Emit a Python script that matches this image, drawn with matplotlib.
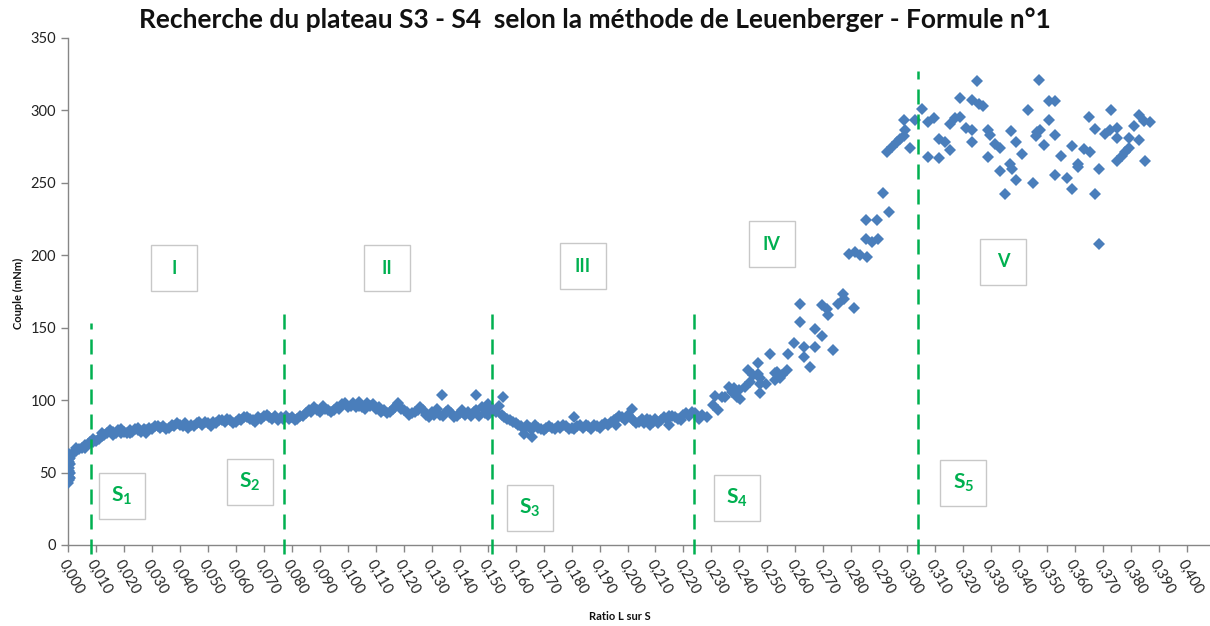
import matplotlib
matplotlib.use("Agg")
import matplotlib.pyplot as plt
from matplotlib.patches import Rectangle

plt.rcParams['font.family'] = ['Lato', 'DejaVu Sans']
plt.rcParams['mathtext.fontset'] = 'custom'
plt.rcParams['mathtext.rm'] = 'Lato'
plt.rcParams['mathtext.bf'] = 'Lato:bold'

# ---------------- data ----------------
start_x = [0.0000, 0.0002, 0.0004, 0.0000, 0.0002, 0.0004, 0.0000, 0.0002, 0.0004, 0.0000, 0.0002, 0.0006,
           0.0008, 0.0008, 0.0006]
start_y = [43, 45, 47, 49, 51, 53, 55, 57, 59, 61, 63, 60, 56, 50, 46]

band_x = [0.001, 0.002, 0.003, 0.004, 0.005, 0.006, 0.007, 0.008, 0.009, 0.010,
          0.011, 0.012, 0.013, 0.014, 0.015, 0.016, 0.017, 0.018, 0.019, 0.020,
          0.021, 0.022, 0.023, 0.024, 0.025, 0.026, 0.027, 0.028, 0.029, 0.030,
          0.032, 0.033, 0.034, 0.036, 0.037, 0.038, 0.040, 0.041, 0.042, 0.044,
          0.045, 0.046, 0.048, 0.049, 0.050, 0.052, 0.053, 0.054, 0.056, 0.057,
          0.058, 0.060, 0.061, 0.062, 0.064, 0.065, 0.066, 0.068, 0.069, 0.070,
          0.072, 0.073, 0.074, 0.076, 0.077, 0.078, 0.080, 0.081, 0.082, 0.084,
          0.085, 0.086, 0.087, 0.088, 0.089, 0.090, 0.092, 0.093, 0.094, 0.096,
          0.097, 0.098, 0.100, 0.101, 0.102, 0.104, 0.105, 0.106, 0.108, 0.109,
          0.110, 0.112, 0.113, 0.114, 0.116, 0.117, 0.118, 0.120, 0.121, 0.122,
          0.124, 0.125, 0.126, 0.128, 0.129, 0.130, 0.132, 0.133, 0.134, 0.136,
          0.137, 0.138, 0.140, 0.141, 0.142, 0.144, 0.145, 0.146, 0.148, 0.149,
          0.150, 0.152, 0.153, 0.154, 0.156, 0.157, 0.158, 0.160, 0.161, 0.162,
          0.164, 0.165, 0.166, 0.168, 0.169, 0.170, 0.172, 0.173, 0.174, 0.176,
          0.177, 0.178, 0.180, 0.181, 0.182, 0.184, 0.185, 0.186, 0.188, 0.189,
          0.190, 0.192, 0.193, 0.194, 0.196, 0.197, 0.198, 0.200, 0.201, 0.202,
          0.204, 0.205, 0.206, 0.208, 0.209, 0.210, 0.212, 0.213, 0.214, 0.216,
          0.217, 0.218, 0.220, 0.221, 0.222, 0.224]
band_y = [62, 64, 65, 66, 67, 69, 70, 71, 71, 72,
          73, 75, 76, 77, 79, 78, 77, 79, 77, 78,
          77, 79, 78, 80, 79, 78, 80, 79, 81, 80,
          82, 81, 82, 81, 83, 82, 83, 82, 84, 83,
          82, 84, 83, 85, 84, 85, 84, 86, 85, 87,
          86, 85, 87, 86, 88, 87, 86, 88, 87, 89,
          88, 87, 89, 88, 87, 89, 88, 86, 87, 89,
          91, 93, 92, 95, 93, 92, 94, 93, 92, 95,
          94, 97, 95, 96, 98, 96, 95, 94, 96, 97,
          94, 92, 93, 91, 94, 95, 97, 93, 92, 90,
          92, 93, 95, 90, 88, 92, 94, 90, 89, 93,
          91, 88, 91, 93, 90, 89, 92, 93, 95, 91,
          90, 93, 92, 96, 88, 87, 86, 84, 83, 82,
          83, 81, 80, 81, 80, 79, 82, 81, 80, 81,
          83, 82, 81, 80, 82, 81, 83, 82, 83, 82,
          81, 84, 83, 85, 87, 89, 88, 90, 88, 86,
          85, 87, 84, 86, 85, 87, 86, 88, 87, 89,
          88, 87, 90, 91, 89, 91]

# second, slightly offset row that gives the band its thickness
band2_x = [0.003, 0.006, 0.009, 0.012, 0.016, 0.019, 0.022, 0.025, 0.028, 0.031,
           0.035, 0.039, 0.043, 0.047, 0.051, 0.055, 0.059, 0.063, 0.067, 0.071,
           0.075, 0.079, 0.083, 0.091, 0.095, 0.099, 0.103, 0.107, 0.111, 0.115,
           0.119, 0.123, 0.127, 0.131, 0.135, 0.139, 0.143, 0.147, 0.151, 0.155,
           0.159, 0.163, 0.167, 0.171, 0.175, 0.179, 0.183, 0.187, 0.191, 0.195,
           0.199, 0.203, 0.207, 0.211, 0.215, 0.219, 0.223]
band2_y = [67, 67, 73, 77, 76, 80, 77, 81, 77, 82,
           80, 84, 81, 85, 82, 86, 84, 88, 85, 90,
           86, 87, 89, 96, 93, 98, 95, 98, 95, 92,
           94, 91, 93, 90, 92, 89, 92, 89, 95, 90,
           85, 80, 83, 81, 82, 80, 83, 80, 83, 86,
           86, 84, 87, 84, 89, 86, 92]

extra_x = [0.1336, 0.1459, 0.1556, 0.1658, 0.1040, 0.1180, 0.1500, 0.1630,
           0.1810, 0.2016, 0.2080, 0.1960, 0.2150]
extra_y = [103.3, 103.3, 101.8, 74.6, 98.5, 98.0, 97.0, 76.5,
           88.5, 93.5, 82.5, 83.0, 83.0]

rise_x = [0.2266, 0.2283, 0.2254, 0.2307, 0.2325, 0.2313, 0.2337, 0.2349, 0.2361, 0.2373,
          0.2397, 0.2391, 0.2403, 0.2379, 0.2421, 0.2438, 0.2432, 0.2450, 0.2468, 0.2474,
          0.2474, 0.2472, 0.2468, 0.2510, 0.2528, 0.2528, 0.2496, 0.2533, 0.2551, 0.2569,
          0.2546, 0.2575, 0.2596, 0.2631, 0.2671, 0.2631, 0.2653, 0.2615, 0.2615, 0.2695,
          0.2712, 0.2715, 0.2671, 0.2695, 0.2734, 0.2754, 0.2772, 0.2774, 0.2811, 0.2792,
          0.2814, 0.2831, 0.2855, 0.2852, 0.2891, 0.2852, 0.2873, 0.2895, 0.2915, 0.2933,
          0.2927, 0.2945, 0.2963, 0.2975, 0.2987, 0.2992, 0.2989]
rise_y = [89.6, 88.4, 87.0, 96.5, 93.0, 103.0, 102.0, 102.0, 109.0, 105.6,
          106.8, 102.0, 101.0, 108.0, 109.0, 112.5, 120.6, 117.0, 117.8, 114.9,
          111.4, 105.0, 125.6, 132.0, 119.0, 113.7, 111.4, 119.4, 117.0, 120.6,
          114.9, 132.0, 139.7, 136.6, 136.6, 130.0, 123.0, 166.5, 154.0, 165.4,
          163.0, 159.0, 149.0, 144.0, 134.8, 166.5, 173.4, 170.0, 163.7, 201.0,
          202.0, 200.0, 198.6, 224.0, 224.0, 211.0, 209.0, 211.0, 243.0, 229.6,
          271.0, 274.5, 278.0, 280.0, 282.5, 286.4, 293.0]

plateau_x = [0.3010, 0.3028, 0.3052, 0.3074, 0.3094, 0.3074, 0.3112, 0.3112, 0.3135, 0.3153,
             0.3153, 0.3171, 0.3189, 0.3189, 0.3231, 0.3255, 0.3272, 0.3250, 0.3210, 0.3231,
             0.3231, 0.3290, 0.3294, 0.3290, 0.3314, 0.3332, 0.3332, 0.3350, 0.3370, 0.3368,
             0.3374, 0.3390, 0.3390, 0.3410, 0.3431, 0.3460, 0.3463, 0.3473, 0.3451, 0.3472,
             0.3490, 0.3508, 0.3529, 0.3508, 0.3529, 0.3549, 0.3529, 0.3570, 0.3590, 0.3590,
             0.3610, 0.3610, 0.3630, 0.3652, 0.3650, 0.3672, 0.3672, 0.3687, 0.3687, 0.3708,
             0.3725, 0.3749, 0.3728, 0.3749, 0.3749, 0.3767, 0.3779, 0.3791, 0.3791, 0.3809,
             0.3827, 0.3845, 0.3868, 0.3830, 0.3850]
plateau_y = [274.0, 293.0, 301.0, 291.6, 294.6, 267.5, 267.0, 280.0, 278.0, 272.6,
             290.5, 294.6, 295.6, 308.4, 307.0, 304.0, 303.0, 320.0, 288.0, 286.0,
             278.0, 286.0, 283.0, 268.0, 277.0, 274.0, 258.0, 242.0, 285.5, 263.0,
             259.5, 278.0, 252.0, 270.0, 300.0, 282.0, 284.8, 286.4, 250.0, 321.0,
             276.0, 306.6, 306.0, 293.0, 283.0, 268.7, 255.4, 253.0, 275.0, 245.8,
             263.0, 261.0, 273.0, 271.0, 295.0, 287.0, 242.0, 259.5, 208.0, 283.6,
             286.0, 288.0, 300.0, 281.0, 265.0, 268.7, 271.0, 274.0, 281.0, 289.0,
             297.0, 292.8, 292.0, 279.5, 265.0]

# boundaries S1..S5 (x) and the top of each dashed line (y)
s_lines_x = [0.0082, 0.0772, 0.1516, 0.2238, 0.3039]
s_lines_top = [153, 166, 164, 166, 327]

zone_labels = ["I", "II", "III", "IV", "V"]
zone_pos = [(0.0379, 190.8), (0.1139, 190.8), (0.1840, 192.2), (0.2515, 207.4), (0.3343, 195.3)]
s_labels = [r"$\mathbf{S_1}$", r"$\mathbf{S_2}$", r"$\mathbf{S_3}$", r"$\mathbf{S_4}$", r"$\mathbf{S_5}$"]
s_pos = [(0.0193, 33.8), (0.0649, 43.4), (0.1650, 25.5), (0.2390, 32.4), (0.3200, 42.7)]

x_ticks = [i / 100 for i in range(0, 42)]
y_ticks = [0, 50, 100, 150, 200, 250, 300, 350]

# ---------------- figure ----------------
W, H = 1210, 626
fig = plt.figure(figsize=(W / 100, H / 100), dpi=100)
ax = fig.add_axes([68 / W, (H - 545) / H, (1215 - 68) / W, (545 - 37.7) / H])
ax.set_xlim(0, 0.41)
ax.set_ylim(0, 350)

blue = "#4a7ebb"
green = "#00b050"
all_x = start_x + band_x + band2_x + extra_x + rise_x + plateau_x
all_y = start_y + band_y + band2_y + extra_y + rise_y + plateau_y
ax.plot(all_x, all_y, linestyle="none", marker="D", markersize=6.2,
        color=blue, markeredgewidth=0, zorder=3)

for xv, top in zip(s_lines_x, s_lines_top):
    ax.plot([xv, xv], [-6, top], color=green, lw=1.8, dashes=(6, 4),
            clip_on=False, zorder=4)

bw = 46 / 2797  # width in data units (~46 px)
bh = 46 / 1.4514      # height in data units (~46 px)
for txt, (cx, cy) in zip(zone_labels, zone_pos):
    ax.add_patch(Rectangle((cx - bw / 2, cy - bh / 2), bw, bh, facecolor="white",
                           edgecolor="#c8c8c8", lw=1.0, zorder=5))
    ax.text(cx, cy, txt, color=green, fontsize=13, fontweight="bold",
            ha="center", va="center", zorder=6)
for txt, (cx, cy) in zip(s_labels, s_pos):
    ax.add_patch(Rectangle((cx - bw / 2, cy - bh / 2), bw, bh, facecolor="white",
                           edgecolor="#c8c8c8", lw=1.0, zorder=5))
    ax.text(cx, cy, txt, color=green, fontsize=15,
            ha="center", va="center", zorder=6)

for sp in ["top", "right"]:
    ax.spines[sp].set_visible(False)
for sp in ["left", "bottom"]:
    ax.spines[sp].set_color("#868686")
    ax.spines[sp].set_linewidth(1.0)

ax.set_yticks(y_ticks)
ax.set_yticklabels([str(v) for v in y_ticks])
ax.set_xticks(x_ticks)
xlabels = [f"{v:.3f}".replace(".", ",") for v in x_ticks]
xlabels[-1] = ""
ax.set_xticklabels(xlabels, rotation=-60, ha="left", va="top", rotation_mode="anchor")
ax.tick_params(axis="both", color="#868686", length=5, width=1.0,
               labelsize=10.5, labelcolor="#222222")
ax.tick_params(axis="x", pad=4)

fig.text(0.492, 0.968, "Recherche du plateau S3 - S4  selon la méthode de Leuenberger - Formule n°1",
         ha="center", va="center", fontsize=19, fontweight="bold", color="#111111")
fig.text(18 / W, 1 - 293 / H, "Couple (mNm)", rotation=90, ha="center", va="center",
         fontsize=8, fontweight="bold", color="#111111")
fig.text(620 / W, 1 - 616 / H, "Ratio L sur S", ha="center", va="center",
         fontsize=8, fontweight="bold", color="#111111")

fig.savefig("out.png", dpi=100)
